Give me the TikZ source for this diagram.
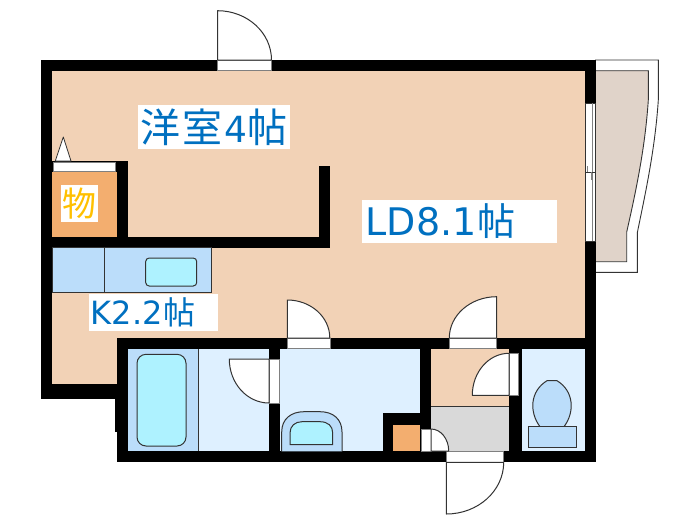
\documentclass[tikz,border=0pt]{standalone}
\usepackage{fontspec}
\setmainfont{DejaVu Sans}
\newfontfamily\jpfont{Noto Sans CJK JP}
\usetikzlibrary{calc}
\definecolor{tanroom}{HTML}{F2D2B6}
\definecolor{closet}{HTML}{F3AE6F}
\definecolor{fixture}{HTML}{BBDDFA}
\definecolor{cyanfix}{HTML}{AEF2FF}
\definecolor{pale}{HTML}{DEF0FF}
\definecolor{grayfloor}{HTML}{D9D9D9}
\definecolor{balc}{HTML}{E0D3C9}
\definecolor{labelblue}{HTML}{0070C0}
\definecolor{labelgold}{HTML}{FFC000}
\definecolor{linec}{HTML}{333333}
\tikzset{
  wallfill/.style={fill=black},
  fix/.style={draw=linec,line width=0.8pt,fill=fixture},
  fixin/.style={draw=linec,line width=1pt,fill=cyanfix},
  opening/.style={fill=white,draw=gray,line width=0.5pt},
  doorleaf/.style={fill=white,draw=linec,line width=1pt,line join=round},
  roomlabel/.style={fill=white,text=labelblue,inner sep=0pt,anchor=center},
}
\newcommand{\doorleaf}[6]{%
  \pgfmathsetmacro\ox{#3+#5-#1}\pgfmathsetmacro\oy{#4+#6-#2}%
  \draw[doorleaf] (#1,#2) -- (#3,#4) .. controls ($(#3,#4)!.5523!(\ox,\oy)$) and ($(#5,#6)!.5523!(\ox,\oy)$) .. (#5,#6) -- cycle;}
\newcommand{\wall}[4]{\fill[wallfill] (#1,#2) rectangle (#3,#4);}
\newcommand{\fsz}[1]{\fontsize{#1}{#1}\selectfont}
\begin{document}
\begin{tikzpicture}[x=1pt,y=-1pt]
\useasboundingbox (0,0) rectangle (700,525);
% balcony
\draw[linec,line width=0.9pt,fill=white] (595,60) -- (658.3,60) -- (658.3,100) .. controls (655,150) and (645,195) .. (637.3,232.7) -- (637.3,272.3) -- (595,272.3);
\draw[linec,line width=0.9pt,fill=balc] (595,70.7) -- (648.3,70.7) -- (648.3,100) .. controls (645,150) and (635,195) .. (626.7,232) -- (626.7,261.7) -- (595,261.7);
% floors
\fill[tanroom] (52,70) rectangle (585,338);
\fill[tanroom] (52,338) rectangle (118,385);
\fill[closet] (52.3,171.5) rectangle (116.7,237);
\fill[fixture] (128,348.5) rectangle (198.3,451.5);
\fill[pale] (198.3,348.5) rectangle (269,451.5);
\fill[pale] (279.5,348.5) rectangle (420.5,451.5);
\fill[tanroom] (431,348.5) rectangle (509,406);
\fill[grayfloor] (431,406) rectangle (509,451.5);
\fill[pale] (521.5,348.5) rectangle (584.5,451.5);
\draw[linec,line width=0.6pt] (198.3,348.5) -- (198.3,451.5);
\draw[linec,line width=0.5pt] (431,406) -- (509,406);
% walls
\wall{41}{60}{595.5}{70.7}
\wall{41}{60}{52.3}{399.3}
\wall{584.5}{60}{595.5}{462.3}
\wall{41}{384.3}{128.3}{399.3}
\wall{115.3}{384.3}{128.3}{431.5}
\wall{117.3}{337.7}{128.3}{462.3}
\wall{117.3}{337.7}{595.5}{348.7}
\wall{117.3}{451.3}{595.5}{462.3}
\wall{41}{236.5}{330}{247.5}
\wall{116.7}{160.7}{128.3}{247.5}
\wall{52}{160.7}{128.3}{171.7}
\wall{319.3}{165.7}{330}{247.5}
\wall{268.7}{337.7}{279.7}{462.3}
\wall{420.3}{337.7}{431.3}{462.3}
\wall{508.7}{337.7}{521.7}{462.3}
\wall{382.5}{413.3}{431}{424.7}
\wall{382.5}{413.3}{393.3}{462.3}
% meter cupboard
\fill[closet] (393.3,424.7) rectangle (420.3,451.3);
% kitchen counter
\draw[fix] (52.3,247.5) rectangle (104.3,292.3);
\draw[fix] (104.3,247.5) rectangle (211,292.3);
\draw[fixin] (145.7,258) [rounded corners=3.5pt] rectangle (196.7,286);
% bath tub
\draw[fixin,rounded corners=9pt] (137,354.3) rectangle (186,446);
% basin
\draw[fix,line width=1pt] (281.7,451.3) -- (281.7,432) .. controls (281.7,419) and (291,411.7) .. (304,411.7) -- (320,411.7) .. controls (333,411.7) and (342,419) .. (342,432) -- (342,451.3);
\draw[fixin] (290,444.7) -- (290,433) .. controls (290,426) and (295,421.7) .. (302,421.7) -- (320,421.7) .. controls (328,421.7) and (332.7,426) .. (332.7,433) -- (332.7,444.7) -- cycle;
% toilet
\draw[fix,line width=1pt] (540,426.7) .. controls (529,412) and (530,391) .. (547,380.7) -- (557,380.7) .. controls (574,391) and (575,412) .. (564,426.7);
\draw[fix] (528,426.7) rectangle (576.3,447.7);
% openings
\draw[opening] (217.5,60) rectangle (271.5,70);
\draw[opening] (53.3,162) rectangle (115,171);
\draw[opening] (287.3,338) rectangle (330,348.5);
\draw[opening] (449.3,338) rectangle (496.7,348.5);
\draw[opening] (269,359) rectangle (279.7,403);
\draw[opening] (509,353.3) rectangle (518.7,395.3);
\draw[opening] (446.3,451.5) rectangle (503.7,462.3);
\draw[opening] (421,429) rectangle (431,451);
% doors
\doorleaf{217.5}{60}{217.5}{10.7}{271.5}{60}
\doorleaf{287.3}{338}{287.3}{300}{329.8}{338}
\doorleaf{496.7}{338}{449.3}{338}{496.7}{296.7}
\doorleaf{269}{359}{229.3}{359}{269}{403}
\doorleaf{509}{395.3}{472.3}{395.3}{509}{353.3}
\doorleaf{446.3}{462.3}{503.7}{462.3}{446.3}{514}
\doorleaf{431}{451}{431}{429}{448.7}{451}
% closet folding door
\draw[doorleaf,line width=0.8pt] (55.3,161) -- (63.3,137) -- (71,161) -- cycle;
% window
\fill[white] (585.3,103.3) rectangle (595.3,241);
\draw[linec,line width=0.7pt] (585.3,103.3) rectangle (595.3,241);
\draw[gray,line width=0.7pt] (592.7,103.3) -- (592.7,241);
\draw[linec,line width=0.7pt] (585.3,172.3) -- (595.3,172.3);
\draw[gray,line width=0.7pt] (587.3,166) -- (587.3,172.3) (591,172.3) -- (591,180);
% labels
\node[roomlabel,minimum width=152pt,minimum height=44pt] (western) at (214,127)
  {\raisebox{2pt}{\fsz{40}\jpfont 洋\hspace{2pt}室\hspace{2pt}\fsz{36}\rmfamily 4\hspace{1pt}\fsz{40}\jpfont 帖}};
\node[roomlabel,minimum height=43pt] (living) at (459.5,221.5)
  {\makebox[195.5pt][l]{\hspace{4pt}\raisebox{1.5pt}{\fsz{38}LD8.1\hspace{1pt}{\jpfont 帖}}}};
\node[roomlabel,minimum height=37pt] (kitchen) at (153.5,312.5)
  {\makebox[128.4pt][l]{\hspace{1.5pt}\fsz{32}K2.2\hspace{0.5pt}{\jpfont 帖}}};
\node[roomlabel,text=labelgold,minimum width=36.7pt,minimum height=37pt,font=\fsz{34}\jpfont] (store) at (79.3,203.5) {物};
\end{tikzpicture}
\end{document}
